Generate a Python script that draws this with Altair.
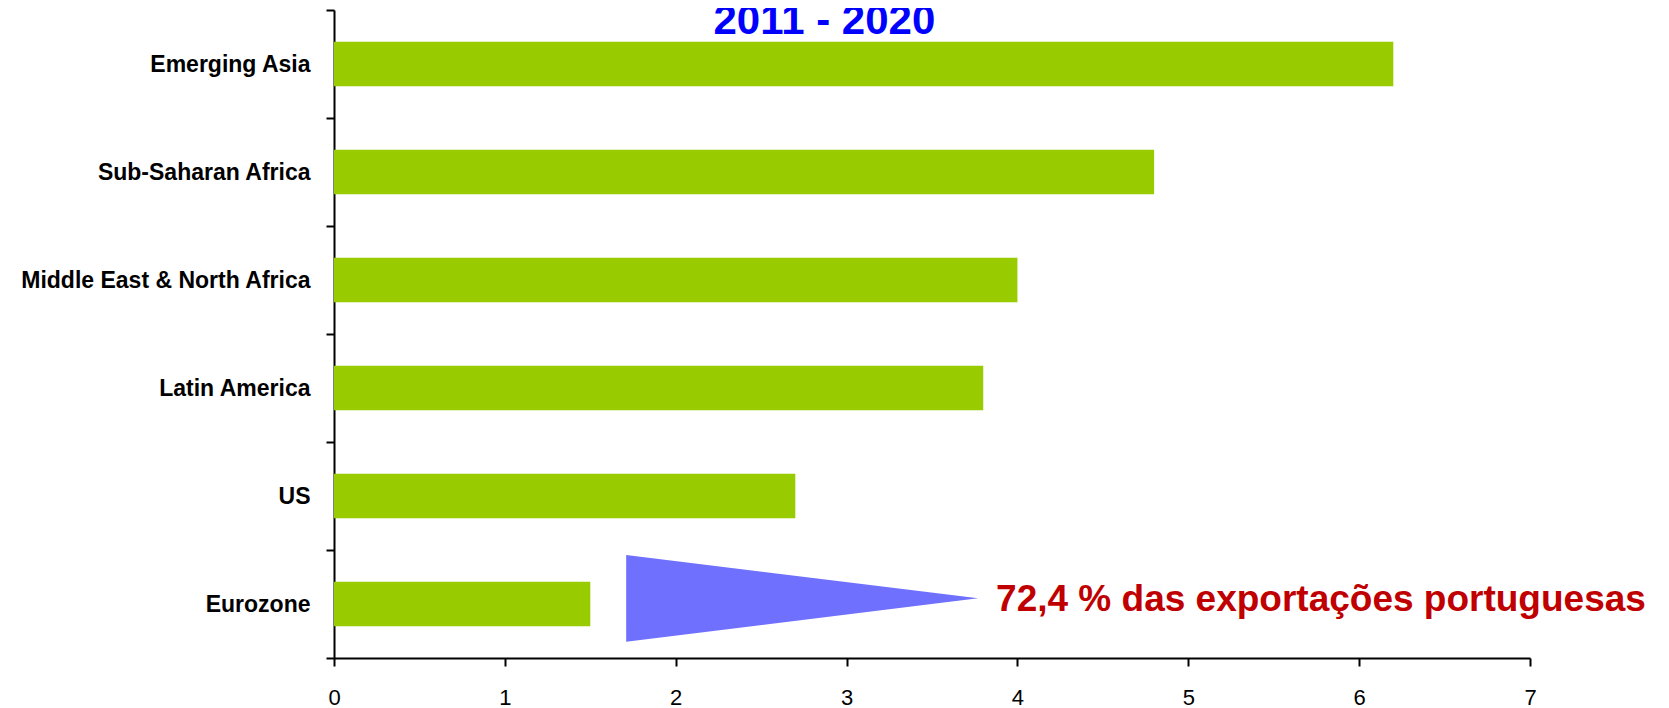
import altair as alt
import pandas as pd

# Bars
regions = ["Emerging Asia", "Sub-Saharan Africa", "Middle East & North Africa\u00a0",
           "Latin America", "US", "Eurozone"]
growth = [6.2, 4.8, 4.0, 3.8, 2.7, 1.5]

# Triangle annotation (x in value units, y in category-band units from bottom)
tri_x = [1.71, 3.77]
tri_top = [0.954, 0.553]
tri_bottom = [0.151, 0.553]

# Text annotations
note_text = ["72,4 % das exportações portuguesas"]
note_x = [3.875]
note_y = [0.438]
title_text = ["2011 - 2020"]
title_x = [2.87]
title_y = [5.78]

FONT = "Liberation Sans"

bars_df = pd.DataFrame({"region": regions, "value": growth})
tri_df = pd.DataFrame({"x": tri_x, "top": tri_top, "bottom": tri_bottom})
note_df = pd.DataFrame({"label": note_text, "x": note_x, "y": note_y})
title_df = pd.DataFrame({"label": title_text, "x": title_x, "y": title_y})

xscale = alt.Scale(domain=[0, 7], nice=False, zero=True)
xaxis = alt.Axis(values=list(range(8)), grid=False, title=None, labelFontSize=22,
                 labelFont=FONT, labelColor="black", domainColor="black", domainWidth=2,
                 tickColor="black", tickWidth=2, tickSize=8, labelPadding=21, format="d",
                 labelFlush=False)

bars = alt.Chart(bars_df).mark_bar(
    color="#99CC00", height=alt.RelativeBandSize(band=0.41)
).encode(
    x=alt.X("value:Q", scale=xscale, axis=xaxis),
    y=alt.Y("region:N", sort=regions,
            scale=alt.Scale(paddingInner=0, paddingOuter=0),
            axis=alt.Axis(title=None, labelFontSize=23, labelFont=FONT, labelFontWeight="bold",
                          labelColor="black", domainColor="black", domainWidth=2,
                          tickColor="black", tickWidth=2, tickSize=8, labelPadding=16,
                          tickBand="extent", labelLimit=400)),
)

yq = alt.Scale(domain=[0, 6], nice=False, zero=False)

tri = alt.Chart(tri_df).mark_area(color="#7070FF", opacity=1).encode(
    x=alt.X("x:Q", scale=xscale),
    y=alt.Y("top:Q", scale=yq, axis=None),
    y2="bottom:Q",
)

note = alt.Chart(note_df).mark_text(
    font=FONT, fontSize=37, fontWeight="bold", color="#C00000", align="left",
    baseline="alphabetic"
).encode(
    x=alt.X("x:Q", scale=xscale),
    y=alt.Y("y:Q", scale=yq, axis=None),
    text="label:N",
)

title = alt.Chart(title_df).mark_text(
    font=FONT, fontSize=42, fontWeight="bold", color="#0000FF", align="center",
    baseline="alphabetic"
).encode(
    x=alt.X("x:Q", scale=xscale),
    y=alt.Y("y:Q", scale=yq, axis=None),
    text="label:N",
)

overlay = alt.layer(tri, note, title)

chart = alt.layer(bars, overlay).resolve_scale(y="independent").properties(
    width=1196, height=648,
    autosize=alt.AutoSizeParams(type="none"),
    padding={"left": 326, "top": 2, "right": 120, "bottom": 60},
).configure(background="white", view=alt.ViewConfig(stroke=None))

chart.save("out.html", embed_options={"renderer": "svg", "actions": False})
